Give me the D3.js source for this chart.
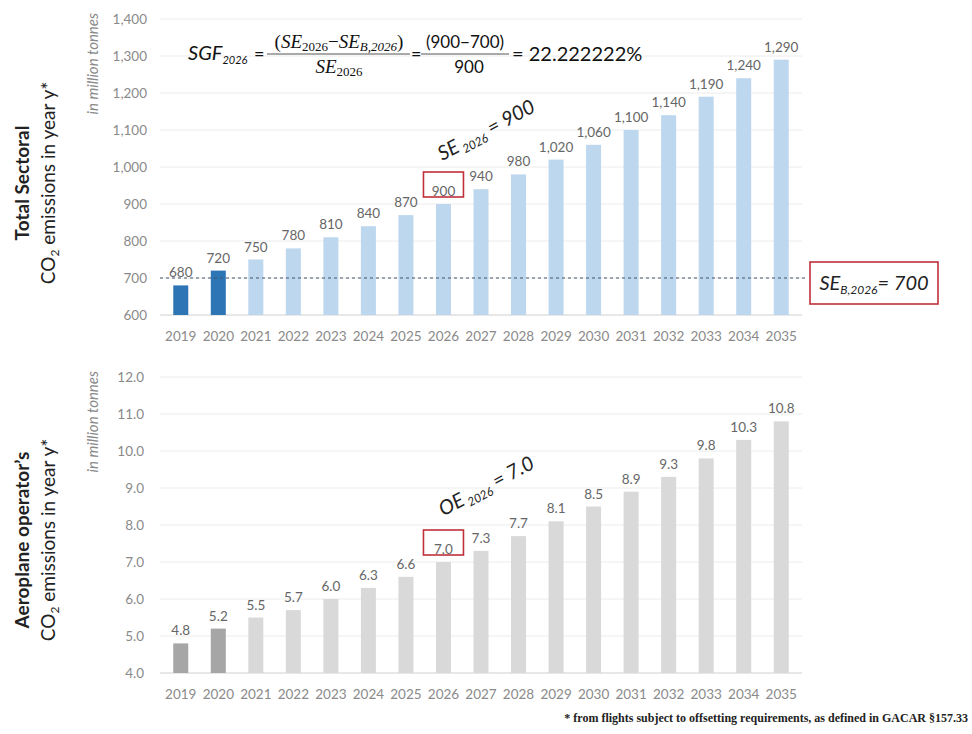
<!DOCTYPE html>
<html>
<head>
<meta charset="utf-8">
<script src="https://cdn.jsdelivr.net/npm/d3@7"></script>
<style>
  body { margin: 0; background: #fff; }
  svg { display: block; font-family: Lato, "Open Sans", sans-serif; }
</style>
</head>
<body>
<div id="cont"></div>
<script>
// data
var years = ["2019","2020","2021","2022","2023","2024","2025","2026","2027","2028","2029","2030","2031","2032","2033","2034","2035"];
var sectoral = [680, 720, 750, 780, 810, 840, 870, 900, 940, 980, 1020, 1060, 1100, 1140, 1190, 1240, 1290];
var operator = [4.8, 5.2, 5.5, 5.7, 6.0, 6.3, 6.6, 7.0, 7.3, 7.7, 8.1, 8.5, 8.9, 9.3, 9.8, 10.3, 10.8];
var historicYears = ["2019", "2020"];
var sectoralTicks = [600, 700, 800, 900, 1000, 1100, 1200, 1300, 1400];
var operatorTicks = [4, 5, 6, 7, 8, 9, 10, 11, 12];
var baselineValue = 700;
var focusYear = "2026";

var width = 972, height = 734;

var svg = d3.select("#cont").append("svg")
    .attr("width", width)
    .attr("height", height);

// shared x scale
var x = d3.scaleBand()
    .domain(years)
    .range([162, 800])
    .paddingInner(0.6)
    .paddingOuter(0.3);

var fmtTop = d3.format(",");
var fmtBot = d3.format(".1f");

function drawPanel(opt) {
  var y = d3.scaleLinear().domain(opt.domain).range([opt.bottom, opt.top]);
  var g = svg.append("g");

  // gridlines
  g.selectAll("line.grid")
    .data(opt.ticks)
    .enter().append("line")
      .attr("x1", 160).attr("x2", 802)
      .attr("y1", function(d) { return y(d); })
      .attr("y2", function(d) { return y(d); })
      .style("stroke", function(d, i) { return i === 0 ? "#d0d0d0" : "#ececec"; })
      .style("stroke-width", 1);

  // y axis
  var yAxis = g.append("g")
      .attr("transform", "translate(" + opt.axisX + ",0)")
      .call(d3.axisLeft(y).tickValues(opt.ticks).tickFormat(opt.tickFmt).tickSize(0).tickPadding(0));
  yAxis.select(".domain").remove();
  yAxis.selectAll("text")
      .style("font-family", "Lato, sans-serif")
      .style("font-size", "13.5px")
      .style("fill", "#8a8a8a");

  // x axis
  var xAxis = g.append("g")
      .attr("transform", "translate(0," + opt.bottom + ")")
      .call(d3.axisBottom(x).tickSize(0).tickPadding(opt.xPad));
  xAxis.select(".domain").remove();
  xAxis.selectAll("text")
      .style("font-family", "Lato, sans-serif")
      .style("font-size", "13.5px")
      .style("fill", "#8a8a8a");

  // bars
  g.selectAll("rect.bar")
    .data(opt.values)
    .enter().append("rect")
      .attr("x", function(d, i) { return x(years[i]); })
      .attr("width", x.bandwidth())
      .attr("y", function(d) { return y(d); })
      .attr("height", function(d) { return opt.bottom - y(d); })
      .style("fill", function(d, i) {
        return historicYears.indexOf(years[i]) >= 0 ? opt.dark : opt.light;
      });

  // value labels
  g.selectAll("text.val")
    .data(opt.values)
    .enter().append("text")
      .attr("x", function(d, i) { return x(years[i]) + x.bandwidth() / 2; })
      .attr("y", function(d) { return y(d) - 8; })
      .attr("text-anchor", "middle")
      .style("font-size", "13.5px")
      .style("fill", "#666")
      .text(opt.labelFmt);

  // red box around focus year label
  var fi = years.indexOf(focusYear);
  var fx = x(focusYear) + x.bandwidth() / 2;
  g.append("rect")
      .attr("x", fx - 20)
      .attr("y", y(opt.values[fi]) - 32)
      .attr("width", 40)
      .attr("height", 25)
      .style("fill", "none")
      .style("stroke", "#c0303a")
      .style("stroke-width", 1.6);

  // left titles
  g.append("text")
      .attr("transform", "translate(29," + opt.titleY + ") rotate(-90)")
      .attr("text-anchor", "middle")
      .style("font-size", "19px")
      .style("font-weight", "bold")
      .style("fill", "#222")
      .text(opt.title);
  var t2 = g.append("text")
      .attr("transform", "translate(55," + opt.titleY + ") rotate(-90)")
      .attr("text-anchor", "middle")
      .style("font-size", "19px")
      .style("fill", "#222");
  t2.append("tspan").text("CO");
  t2.append("tspan").attr("dy", 4).style("font-size", "12px").text("2");
  t2.append("tspan").attr("dy", -4).text(" emissions in year y*");

  g.append("text")
      .attr("transform", "translate(98," + (opt.top - 6) + ") rotate(-90)")
      .attr("text-anchor", "end")
      .style("font-size", "15px")
      .style("font-style", "italic")
      .style("fill", "#8a8a8a")
      .text("in million tonnes");

  // rotated annotation
  var an = g.append("text")
      .attr("transform", "translate(" + (fx + 46) + "," + opt.annY + ") rotate(-28)")
      .attr("text-anchor", "middle")
      .style("font-size", "20px")
      .style("font-style", "italic")
      .style("fill", "#222");
  an.append("tspan").text(opt.annName);
  an.append("tspan").attr("dy", 4).style("font-size", "12px").text(" 2026");
  an.append("tspan").attr("dy", -4).text(" = " + opt.labelFmt(opt.values[fi]));

  return y;
}

var yTop = drawPanel({
  domain: [600, 1400], top: 19, bottom: 315, ticks: sectoralTicks,
  values: sectoral, tickFmt: fmtTop, labelFmt: fmtTop, axisX: 147, xPad: 16,
  dark: "#2e75b6", light: "#bdd7ee",
  title: "Total Sectoral", titleY: 183, annName: "SE", annY: 136
});

var yBot = drawPanel({
  domain: [4, 12], top: 377, bottom: 673, ticks: operatorTicks,
  values: operator, tickFmt: fmtBot, labelFmt: fmtBot, axisX: 144, xPad: 16,
  dark: "#a6a6a6", light: "#d9d9d9",
  title: "Aeroplane operator\u2019s", titleY: 540, annName: "OE", annY: 492
});

// baseline dashed line
svg.append("line")
    .attr("x1", 160).attr("x2", 806)
    .attr("y1", yTop(baselineValue)).attr("y2", yTop(baselineValue))
    .style("stroke", "#44546a")
    .style("stroke-width", 1.2)
    .style("stroke-dasharray", "3,3");

// baseline box
svg.append("rect")
    .attr("x", 810).attr("y", yTop(baselineValue) - 16)
    .attr("width", 128).attr("height", 42)
    .style("fill", "#fff")
    .style("stroke", "#c0303a")
    .style("stroke-width", 1.6);
var sb = svg.append("text")
    .attr("x", 874).attr("y", yTop(baselineValue) + 12)
    .attr("text-anchor", "middle")
    .style("font-size", "20px")
    .style("font-style", "italic")
    .style("fill", "#222");
sb.append("tspan").text("SE");
sb.append("tspan").attr("dy", 4).style("font-size", "12px").text("B,2026");
sb.append("tspan").attr("dy", -4).text("= " + baselineValue);

// SGF formula
var fg = svg.append("g").style("fill", "#111");
var sgf = fg.append("text")
    .attr("x", 188).attr("y", 60)
    .style("font-size", "20px")
    .style("font-style", "italic");
sgf.append("tspan").text("SGF");
sgf.append("tspan").attr("dy", 4).style("font-size", "11px").text("2026");
fg.append("text").attr("x", 254).attr("y", 60).style("font-size", "18px").text("=");

var num = fg.append("text")
    .attr("x", 339).attr("y", 48)
    .attr("text-anchor", "middle")
    .style("font-family", "'Liberation Serif', serif")
    .style("font-size", "19px");
num.append("tspan").text("(");
num.append("tspan").style("font-style", "italic").text("SE");
num.append("tspan").attr("dy", 3).style("font-size", "13px").text("2026");
num.append("tspan").attr("dy", -3).text("\u2212");
num.append("tspan").style("font-style", "italic").text("SE");
num.append("tspan").attr("dy", 3).style("font-size", "13px").style("font-style", "italic").text("B,2026");
num.append("tspan").attr("dy", -3).text(")");
fg.append("line")
    .attr("x1", 267).attr("x2", 410).attr("y1", 54).attr("y2", 54)
    .style("stroke", "#555").style("stroke-width", 1);
var den = fg.append("text")
    .attr("x", 339).attr("y", 73)
    .attr("text-anchor", "middle")
    .style("font-family", "'Liberation Serif', serif")
    .style("font-size", "19px");
den.append("tspan").style("font-style", "italic").text("SE");
den.append("tspan").attr("dy", 3).style("font-size", "13px").text("2026");

fg.append("text").attr("x", 411).attr("y", 60).style("font-size", "18px").text("=");
fg.append("text")
    .attr("x", 465).attr("y", 48)
    .attr("text-anchor", "middle")
    .style("font-size", "17px")
    .text("(900\u2212700)");
fg.append("line")
    .attr("x1", 421).attr("x2", 509).attr("y1", 54).attr("y2", 54)
    .style("stroke", "#555").style("stroke-width", 1);
fg.append("text")
    .attr("x", 469).attr("y", 73)
    .attr("text-anchor", "middle")
    .style("font-size", "17px")
    .text("900");
fg.append("text")
    .attr("x", 512).attr("y", 61)
    .style("font-size", "20px")
    .text("= 22.222222%");

// footnote
svg.append("text")
    .attr("x", 968).attr("y", 722)
    .attr("text-anchor", "end")
    .style("font-family", "'Liberation Serif', serif")
    .style("font-size", "12px")
    .style("font-weight", "bold")
    .style("fill", "#222")
    .text("* from flights subject to offsetting requirements, as defined in GACAR \u00a7157.33");
</script>
</body>
</html>
